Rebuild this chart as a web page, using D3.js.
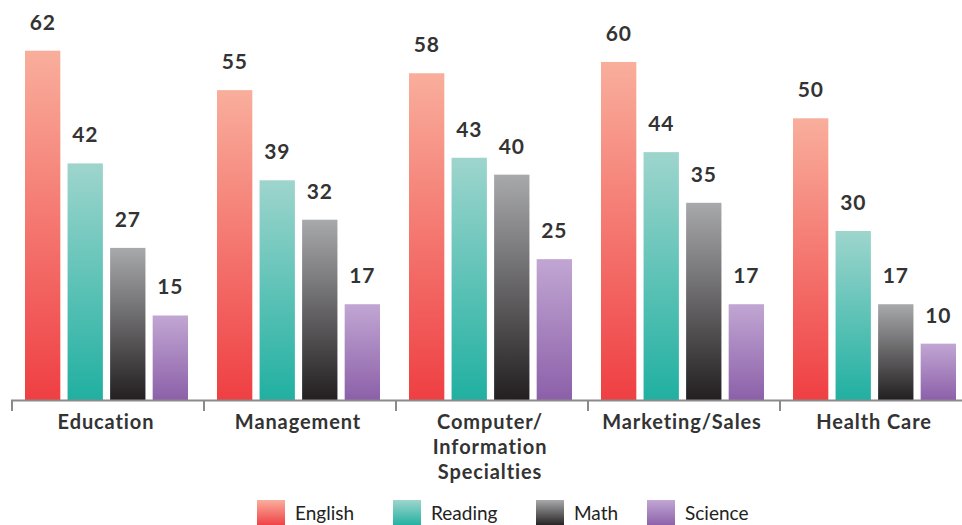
<!DOCTYPE html>
<html>
<head>
<meta charset="utf-8">
<script src="https://cdn.jsdelivr.net/npm/d3@7"></script>
<style>
  body { margin: 0; background: #fff; }
  svg { display: block; font-family: Lato, "Open Sans", sans-serif; }
</style>
</head>
<body>
<div id="chart"></div>
<script>
var categories = ["Education", "Management", "Computer/\nInformation\nSpecialties", "Marketing/Sales", "Health Care"];
var series = ["English", "Reading", "Math", "Science"];
var english = [62, 55, 58, 60, 50];
var reading = [42, 39, 43, 44, 30];
var math = [27, 32, 40, 35, 17];
var science = [15, 17, 25, 17, 10];

var seriesValues = [english, reading, math, science];
var colors = [
  ["#f9ae9c", "#ef3f43"],
  ["#9ed5cd", "#20b0a1"],
  ["#a8a9ab", "#231f20"],
  ["#c1a6d3", "#8c60a9"]
];

var width = 962, height = 525;
var baseY = 400;

var svg = d3.select("#chart").append("svg")
  .attr("width", width)
  .attr("height", height);

var defs = svg.append("defs");
colors.forEach(function(c, i) {
  var g = defs.append("linearGradient")
    .attr("id", "grad" + i)
    .attr("x1", 0).attr("y1", 0).attr("x2", 0).attr("y2", 1);
  g.append("stop").attr("offset", "0%").attr("stop-color", c[0]);
  g.append("stop").attr("offset", "100%").attr("stop-color", c[1]);
});

var x0 = d3.scaleBand()
  .domain(d3.range(categories.length))
  .range([12, 972])
  .paddingInner(0)
  .paddingOuter(0);

var x1 = d3.scaleBand()
  .domain(d3.range(series.length))
  .range([13, 176])
  .paddingInner(0.17);

var y = d3.scaleLinear()
  .domain([0, 71])
  .range([baseY, 0]);

var groups = svg.append("g").selectAll("g")
  .data(categories)
  .enter().append("g")
  .attr("transform", function(d, i) { return "translate(" + x0(i) + ",0)"; });

groups.each(function(cat, ci) {
  var g = d3.select(this);
  series.forEach(function(s, si) {
    var v = seriesValues[si][ci];
    g.append("rect")
      .attr("x", x1(si))
      .attr("y", y(v))
      .attr("width", x1.bandwidth())
      .attr("height", baseY - y(v))
      .attr("fill", "url(#grad" + si + ")");
    g.append("text")
      .attr("x", x1(si) + x1.bandwidth() / 2)
      .attr("y", y(v) - 21)
      .attr("text-anchor", "middle")
      .attr("font-size", "21px")
      .attr("font-weight", "bold")
      .attr("letter-spacing", "0.8px")
      .attr("fill", "#333")
      .text(v);
  });
});

// axis
var axis = svg.append("g");
axis.append("line")
  .attr("x1", 11).attr("x2", width)
  .attr("y1", baseY + 0.5).attr("y2", baseY + 0.5)
  .attr("stroke", "#8a8a8a").attr("stroke-width", 2);
axis.selectAll(".tick")
  .data(d3.range(categories.length))
  .enter().append("line")
  .attr("x1", function(d) { return x0(d); })
  .attr("x2", function(d) { return x0(d); })
  .attr("y1", baseY).attr("y2", baseY + 11)
  .attr("stroke", "#8a8a8a").attr("stroke-width", 2);

axis.selectAll(".cat")
  .data(categories)
  .enter().append("text")
  .attr("text-anchor", "middle")
  .attr("font-size", "20px")
  .attr("font-weight", "bold")
  .attr("letter-spacing", "0.9px")
  .attr("fill", "#333")
  .each(function(d, i) {
    var t = d3.select(this);
    d.split("\n").forEach(function(line, li) {
      t.append("tspan")
        .attr("x", x0(i) + 94)
        .attr("y", 429 + li * 25)
        .text(line);
    });
  });

// legend
var legendX = [257, 393, 536, 647];
var legend = svg.append("g").selectAll("g")
  .data(series)
  .enter().append("g")
  .attr("transform", function(d, i) { return "translate(" + legendX[i] + ",500)"; });
legend.append("rect")
  .attr("width", 28).attr("height", 26)
  .attr("fill", function(d, i) { return "url(#grad" + i + ")"; });
legend.append("text")
  .attr("x", 38).attr("y", 20)
  .attr("font-size", "19px")
  .attr("fill", "#222")
  .text(function(d) { return d; });
</script>
</body>
</html>
